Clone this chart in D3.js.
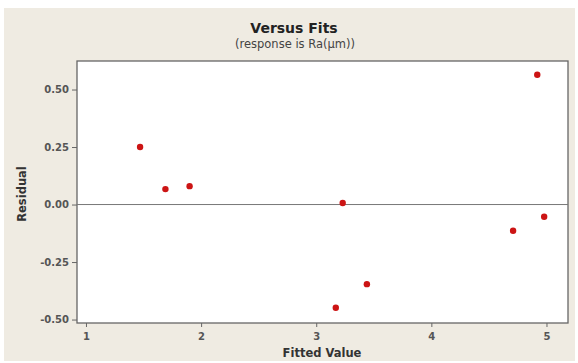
<!DOCTYPE html>
<html>
<head>
<meta charset="utf-8">
<script src="https://cdn.jsdelivr.net/npm/d3@7"></script>
<style>
  body { margin: 0; background: #fff; }
  text { font-family: "DejaVu Sans", Verdana, sans-serif; }
</style>
</head>
<body>
<div id="chart"></div>
<script>
// fitted values and residuals
const fitted = [1.47, 1.69, 1.90, 3.17, 3.23, 3.44, 4.71, 4.92, 4.98];
const residual = [0.25, 0.067, 0.080, -0.449, 0.007, -0.346, -0.114, 0.564, -0.053];
const xTicks = [1, 2, 3, 4, 5];
const yTicks = [-0.50, -0.25, 0.00, 0.25, 0.50];

const width = 578, height = 363;
const box = { left: 77, right: 568, top: 61, bottom: 323 };

const svg = d3.select("#chart").append("svg")
    .attr("width", width)
    .attr("height", height);

// beige frame
svg.append("rect")
    .attr("x", 4).attr("y", 8)
    .attr("width", 571).attr("height", 353)
    .attr("fill", "#efebe2");

const x = d3.scaleLinear().domain([0.922, 5.187]).range([box.left, box.right]);
const y = d3.scaleLinear().domain([-0.515, 0.624]).range([box.bottom, box.top]);

svg.append("rect")
    .attr("x", box.left).attr("y", box.top)
    .attr("width", box.right - box.left).attr("height", box.bottom - box.top)
    .attr("fill", "#fff")
    .attr("stroke", "#666")
    .attr("stroke-width", 1.3);

// zero reference line
svg.append("line")
    .attr("x1", box.left).attr("x2", box.right)
    .attr("y1", y(0)).attr("y2", y(0))
    .attr("stroke", "#777")
    .attr("stroke-width", 1);

const fmtY = d => d3.format(".2f")(d).replace("−", "-");

const xAxis = svg.append("g")
    .attr("transform", `translate(0,${box.bottom})`)
    .call(d3.axisBottom(x).tickValues(xTicks).tickFormat(d3.format("d")).tickSize(4).tickSizeOuter(0));

const yAxis = svg.append("g")
    .attr("transform", `translate(${box.left},0)`)
    .call(d3.axisLeft(y).tickValues(yTicks).tickFormat(fmtY).tickSize(5).tickSizeOuter(0));

[xAxis, yAxis].forEach(g => {
  g.select(".domain").remove();
  g.selectAll(".tick line").attr("stroke", "#666");
  g.selectAll(".tick text")
      .attr("fill", "#555")
      .style("font-family", "'DejaVu Sans', Verdana, sans-serif")
      .style("font-size", "10px")
      .style("font-weight", "bold");
});
xAxis.selectAll(".tick text").attr("dy", "1em");

svg.selectAll("circle.pt")
    .data(fitted)
    .enter()
    .append("circle")
    .attr("class", "pt")
    .attr("cx", d => x(d))
    .attr("cy", (d, i) => y(residual[i]))
    .attr("r", 3.2)
    .attr("fill", "#cc1414");

svg.append("text")
    .attr("x", 294).attr("y", 33)
    .attr("text-anchor", "middle")
    .style("font-size", "14px")
    .style("font-weight", "bold")
    .attr("fill", "#222")
    .text("Versus Fits");

svg.append("text")
    .attr("x", 295).attr("y", 48)
    .attr("text-anchor", "middle")
    .style("font-size", "11.5px")
    .attr("fill", "#444")
    .text("(response is Ra(μm))");

svg.append("text")
    .attr("x", 322).attr("y", 357)
    .attr("text-anchor", "middle")
    .style("font-size", "11.5px")
    .style("font-weight", "bold")
    .attr("fill", "#333")
    .text("Fitted Value");

svg.append("text")
    .attr("transform", "translate(26,194) rotate(-90)")
    .attr("text-anchor", "middle")
    .style("font-size", "11.5px")
    .style("font-weight", "bold")
    .attr("fill", "#333")
    .text("Residual");
</script>
</body>
</html>
